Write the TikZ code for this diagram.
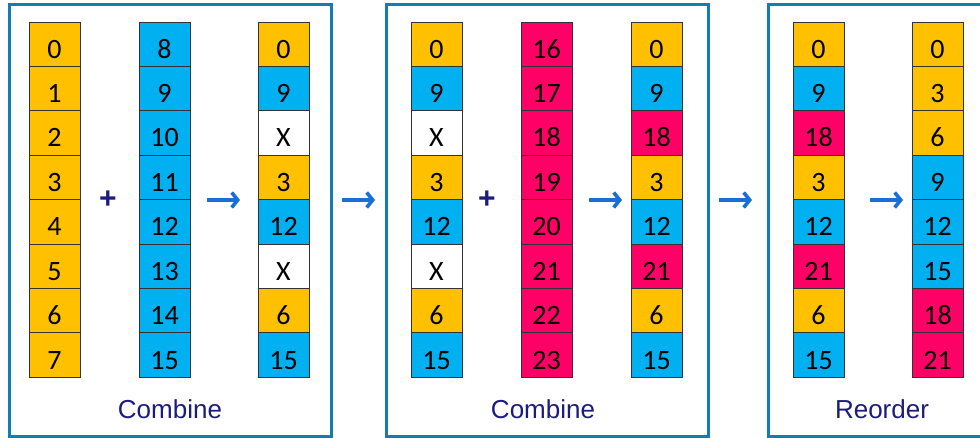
\documentclass[tikz,border=0pt]{standalone}
\usepackage{fontspec}
\setmainfont{Carlito}
\newfontfamily\labelfont{Liberation Sans}
\usetikzlibrary{arrows.meta}

\definecolor{cellO}{HTML}{FFC000}
\definecolor{cellB}{HTML}{00B0F0}
\definecolor{cellP}{HTML}{FF0066}
\definecolor{cellW}{HTML}{FFFFFF}
\definecolor{panelblue}{HTML}{127DB2}
\definecolor{arrowblue}{HTML}{1A6FD6}
\definecolor{navy}{HTML}{1C1C7C}
\definecolor{edge}{HTML}{333333}

\tikzset{
  cell/.style={draw=edge, line width=0.9pt, minimum width=51pt, minimum height=44.4pt,
    inner sep=0pt, text height=28pt, text depth=0pt,
    font=\fontsize{28}{30}\selectfont},
  panel/.style={draw=panelblue, line width=3pt},
  caption/.style={text=navy, font=\labelfont\fontsize{26}{28}\selectfont, anchor=base},
  plussign/.style={text=navy, font=\labelfont\bfseries\fontsize{30}{32}\selectfont, inner sep=0pt},
  flow/.style={draw=arrowblue, line width=3.6pt,
    -{Straight Barb[length=6pt,width=15pt,line width=3.6pt]}},
}

% one column of eight cells: #1 name, #2 left x, #3 list of colour/text pairs
\newcommand{\cellcolumn}[3]{%
  \foreach \c/\t [count=\i from 0] in {#3} {
    \node[cell, fill=cell\c] (#1-\i) at ({#2+25.5}, {22+22.2+44.4*\i}) {\t};
  }%
}

\begin{document}
\begin{tikzpicture}[x=1pt, y=-1pt]
\useasboundingbox (0,0) rectangle (980,438);
\fill[white] (0,0) rectangle (980,438);

\begin{scope}
\clip (0,0) rectangle (980,438);
% panels
\draw[panel] (9,5) rectangle (331,436);
\draw[panel] (386,5) rectangle (708,436);
\draw[panel] (768,5) rectangle (992,436);
\end{scope}

% first combine
\cellcolumn{a}{29}{O/0,O/1,O/2,O/3,O/4,O/5,O/6,O/7}
\cellcolumn{b}{139}{B/8,B/9,B/10,B/11,B/12,B/13,B/14,B/15}
\cellcolumn{c}{258}{O/0,B/9,W/X,O/3,B/12,W/X,O/6,B/15}
\node[plussign] (p1) at (108,200) {+};
\node[caption] (cap1) at (170,418) {Combine};

% second combine
\cellcolumn{d}{411}{O/0,B/9,W/X,O/3,B/12,W/X,O/6,B/15}
\cellcolumn{e}{521}{P/16,P/17,P/18,P/19,P/20,P/21,P/22,P/23}
\cellcolumn{f}{631}{O/0,B/9,P/18,O/3,B/12,P/21,O/6,B/15}
\node[plussign] (p2) at (487,200) {+};
\node[caption] (cap2) at (543,418) {Combine};

% reorder
\cellcolumn{g}{793}{O/0,B/9,P/18,O/3,B/12,P/21,O/6,B/15}
\cellcolumn{h}{912}{O/0,O/3,O/6,B/9,B/12,B/15,P/18,P/21}
\node[caption] (cap3) at (882,418) {Reorder};

% arrows
\coordinate (a1s) at (207,200); \coordinate (a1e) at (240,200);
\coordinate (a2s) at (342,200); \coordinate (a2e) at (375,200);
\coordinate (a3s) at (589,200); \coordinate (a3e) at (622,200);
\coordinate (a4s) at (719,200); \coordinate (a4e) at (752,200);
\coordinate (a5s) at (870,200); \coordinate (a5e) at (903,200);
\foreach \k in {1,...,5} { \draw[flow] (a\k s) -- (a\k e); }
\end{tikzpicture}
\end{document}
